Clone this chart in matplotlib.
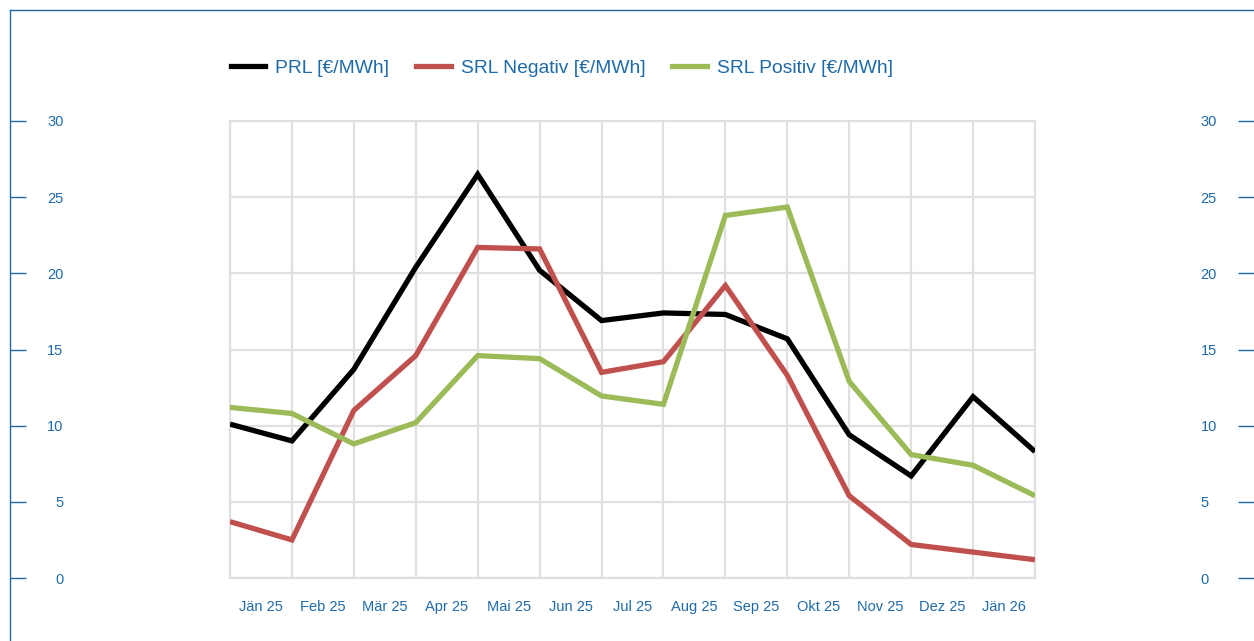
import matplotlib
matplotlib.use("Agg")
import matplotlib.pyplot as plt
from matplotlib.lines import Line2D

plt.rcParams['font.family'] = ['Liberation Sans', 'DejaVu Sans']

months = ["Jän 25", "Feb 25", "Mär 25", "Apr 25", "Mai 25", "Jun 25", "Jul 25",
          "Aug 25", "Sep 25", "Okt 25", "Nov 25", "Dez 25", "Jän 26"]
prl = [10.1, 9.0, 13.7, 20.4, 26.5, 20.2, 16.9, 17.4, 17.3, 15.7, 9.4, 6.7, 11.9, 8.3]
srl_neg = [3.7, 2.5, 11.0, 14.6, 21.7, 21.6, 13.5, 14.2, 19.2, 13.3, 5.4, 2.2, 1.7, 1.2]
srl_pos = [11.2, 10.8, 8.8, 10.2, 14.6, 14.4, 11.95, 11.4, 23.8, 24.35, 12.9, 8.1, 7.4, 5.4]
labels = ["PRL [€/MWh]", "SRL Negativ [€/MWh]", "SRL Positiv [€/MWh]"]
yticks = [0, 5, 10, 15, 20, 25, 30]

W, H = 1254, 641
BLUE = "#1f6aa8"
colors = ["#000000", "#c0504d", "#9bbb59"]

fig = plt.figure(figsize=(W / 100, H / 100), dpi=100)

# main plot area
l, r, top, bot = 230, 1035, 121, 578
b = 1 - bot / H
t = 1 - top / H
ax = fig.add_axes([l / W, b, (r - l) / W, t - b])

# outer frame axes (left/top border lines with ticks)
yf1 = 1 - 10 / H
def val(yfrac):
    return (yfrac - b) / (t - b) * 30
frame = fig.add_axes([10 / W, 0, (W - 10) / W, yf1], zorder=0)
frame.set_facecolor("none")
frame.set_xlim(0, 1)
frame.set_ylim(val(0), val(yf1))
frame.set_xticks([])
frame.set_yticks(yticks)
for s in ["bottom", "right"]:
    frame.spines[s].set_visible(False)
for s in ["left", "top"]:
    frame.spines[s].set_color(BLUE)
    frame.spines[s].set_linewidth(1.0)
frame.tick_params(axis='y', direction='in', length=11.5, width=1.0, color=BLUE,
                  labelcolor=BLUE, labelsize=10.5, pad=-38.5,
                  left=True, right=True, labelleft=True, labelright=True)
for tk in frame.yaxis.get_major_ticks():
    tk.label1.set_horizontalalignment('right')
    tk.label2.set_horizontalalignment('left')

ax.set_zorder(1)
x = list(range(len(prl)))
for series, c in zip([prl, srl_neg, srl_pos], colors):
    ax.plot(x, series, color=c, lw=3.8, solid_joinstyle='miter', solid_capstyle='butt', zorder=3)

ax.set_xlim(0, len(prl) - 1)
ax.set_ylim(0, 30)
ax.set_xticks(x)
ax.set_xticklabels([])
ax.set_xticks([i + 0.5 for i in range(len(months))], minor=True)
ax.set_xticklabels(months, minor=True)
ax.set_yticks(yticks)
ax.set_yticklabels([])
ax.tick_params(axis='both', which='both', length=0)
ax.tick_params(axis='x', which='minor', pad=16, labelsize=10.5, labelcolor=BLUE)
ax.grid(True, which='major', color="#e0e0e0", lw=1.6)
for s in ax.spines.values():
    s.set_color("#e0e0e0")
    s.set_linewidth(1.6)
ax.set_axisbelow(True)

handles = [Line2D([0], [0], color=c, lw=3.8) for c in colors]
fig.legend(handles, labels, loc='center left', bbox_to_anchor=(231 / W, 1 - 68 / H),
           ncol=3, frameon=False, fontsize=13.9, handlelength=1.78, handletextpad=0.52,
           columnspacing=1.4, borderpad=0, borderaxespad=0, labelcolor=BLUE)

fig.savefig("out.png", dpi=100)
